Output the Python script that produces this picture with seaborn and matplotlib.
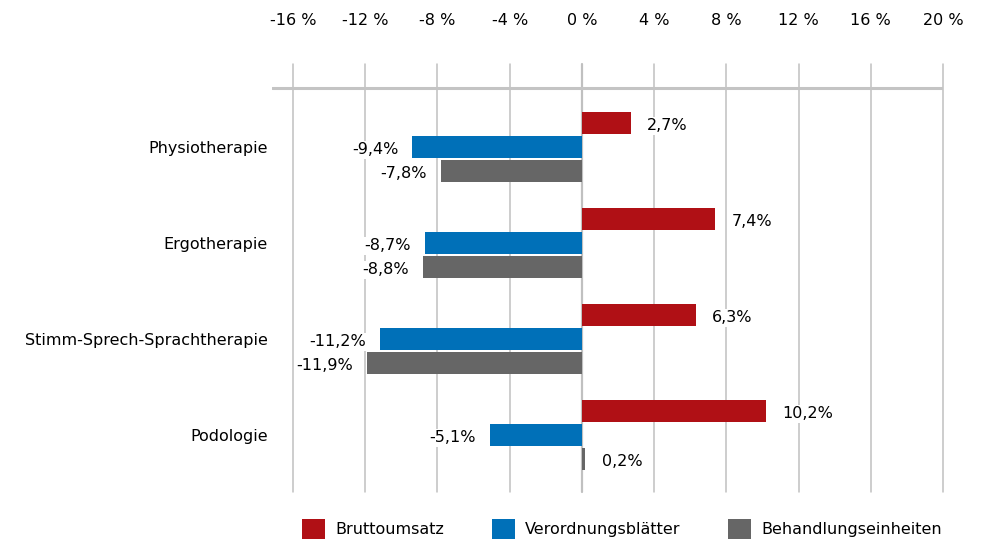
import matplotlib
matplotlib.use("Agg")
import matplotlib.pyplot as plt
from matplotlib.patches import Patch
import pandas as pd
import seaborn as sns

# chart data
categories = ["Physiotherapie", "Ergotherapie", "Stimm-Sprech-Sprachtherapie", "Podologie"]
series = ["Bruttoumsatz", "Verordnungsblätter", "Behandlungseinheiten"]
bruttoumsatz = [2.7, 7.4, 6.3, 10.2]
verordnungsblaetter = [-9.4, -8.7, -11.2, -5.1]
behandlungseinheiten = [-7.8, -8.8, -11.9, 0.2]
xticks = [-16, -12, -8, -4, 0, 4, 8, 12, 16, 20]
xtick_labels = ["-16 %", "-12 %", "-8 %", "-4 %", "0 %", "4 %", "8 %", "12 %", "16 %", "20 %"]
colors = ["#B01015", "#0070B8", "#666666"]

df = pd.DataFrame({
    "Kategorie": categories * 3,
    "Reihe": [series[0]] * 4 + [series[1]] * 4 + [series[2]] * 4,
    "Wert": bruttoumsatz + verordnungsblaetter + behandlungseinheiten,
})

sns.set_style("white")
plt.rcParams["font.family"] = ["DejaVu Sans"]
plt.rcParams["font.size"] = 11.5
plt.rcParams["text.color"] = "black"
plt.rcParams["xtick.color"] = "black"
plt.rcParams["ytick.color"] = "black"

fig = plt.figure(figsize=(9.86, 5.44), dpi=100)
ax = fig.add_axes([272 / 986, 1 - 492 / 544, (943 - 272) / 986, (492 - 64) / 544])

sns.barplot(data=df, y="Kategorie", x="Wert", hue="Reihe", order=categories,
            hue_order=series, palette=colors, orient="h", width=0.75, gap=0.08,
            saturation=1, linewidth=0, legend=False, ax=ax)

ax.set_xlim(-17.16, 20.0)
ax.set_ylim(3.594, -0.865)
ax.set_xlabel("")
ax.set_ylabel("")

# vertical grid + top tick labels
ax.set_xticks(xticks)
ax.set_xticklabels(xtick_labels, fontsize=11.5)
ax.xaxis.tick_top()
ax.tick_params(axis="x", length=0, pad=26)
ax.tick_params(axis="y", length=0, pad=3, labelsize=11.5)
for x in xticks:
    ax.axvline(x, color="#c0c0c0", lw=1.6 if x == 0 else 1.1, zorder=0, clip_on=False)
ax.axhline(-0.615, color="#c4c4c4", lw=2.2, zorder=0)
for s in ax.spines.values():
    s.set_visible(False)

# value labels
for container in ax.containers:
    for bar in container:
        v = bar.get_width()
        yc = bar.get_y() + bar.get_height() / 2
        txt = f"{v:.1f}%".replace(".", ",")
        if v >= 0:
            ax.annotate(txt, (v, yc), xytext=(12, -2), textcoords="offset points",
                        ha="left", va="center", fontsize=11.5,
                        bbox=dict(facecolor="white", edgecolor="none", pad=1))
        else:
            ax.annotate(txt, (v, yc), xytext=(-10, -2), textcoords="offset points",
                        ha="right", va="center", fontsize=11.5,
                        bbox=dict(facecolor="white", edgecolor="none", pad=1))

handles = [Patch(facecolor=c, edgecolor="none") for c in colors]
fig.legend(handles, series, loc="center", bbox_to_anchor=(622 / 986, 1 - 529 / 544),
           ncol=3, frameon=False, fontsize=11.5, handlelength=1.44, handleheight=1.56,
           handletextpad=0.63, columnspacing=3.0, borderpad=0, borderaxespad=0)

fig.savefig("out.png", dpi=100)
